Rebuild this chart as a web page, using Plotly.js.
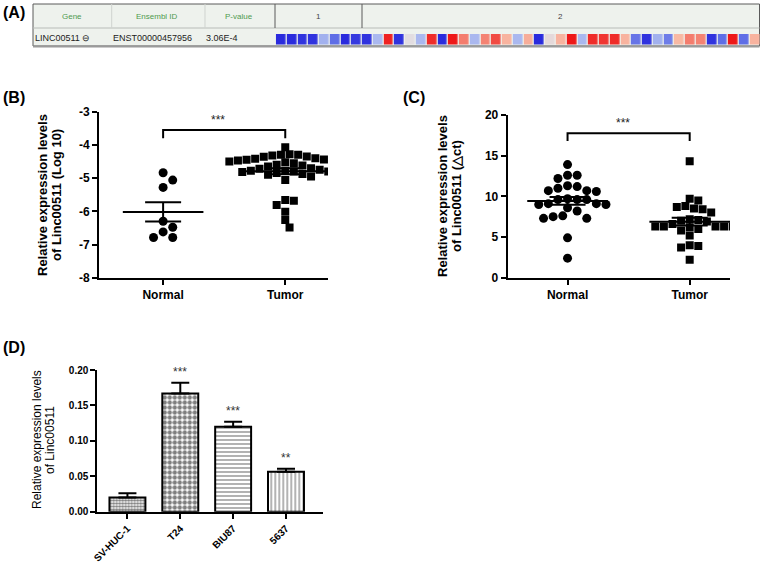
<!DOCTYPE html>
<html>
<head>
<meta charset="utf-8">
<script src="https://cdn.plot.ly/plotly-3.0.1.min.js"></script>
<style>html,body{margin:0;padding:0;background:#fff;}#chart{width:761px;height:564px;}</style>
</head>
<body>
<div id="chart"></div>
<script>
// ---------------- DATA ----------------
// (A) table
const tableHeader = ['Gene', 'Ensembl ID', 'P-value'];
const tableRow = ['LINC00511 \u2296', 'ENST00000457956', '3.06E-4'];
const heatGroups = ['1', '2'];
const heatValues = [-2.9,-2.9,-2.8,-2.8,-1.1,-2.0,-2.9,-2.7,-2.8,-1.0,2.9,-2.8,0.1,-1.0,2.8,-2.9,3.0,2.0,-1.0,1.9,
                    2.5,1.1,-1.0,1.2,-2.9,0.2,1.1,3.0,-1.0,2.8,2.7,2.8,1.1,-1.9,-2.8,-1.1,-1.8,1.0,2.0,1.9,
                    -2.8,-2.0,3.0,-2.0,1.1];
// (B) log10 expression
const groups = ['Normal', 'Tumor'];
const normalB = [-4.84, -5.06, -5.28, -6.30, -6.48, -6.62, -6.79, -6.79];
const tumorB = [-4.07,-4.28,-4.30,-4.30,-4.32,-4.35,-4.36,-4.40,-4.42,-4.44,-4.45,-4.45,-4.47,-4.48,-4.50,-4.50,
                -4.52,-4.55,-4.60,-4.62,-4.65,-4.70,-4.72,-4.75,-4.78,-4.78,-4.80,-4.80,-4.82,-4.85,-4.88,-4.90,
                -4.95,-5.06,-5.66,-5.68,-5.81,-6.01,-6.26,-6.49];
const sigB = '***';
// (C) delta ct
const normalC = [13.9,12.6,12.6,12.2,11.3,11.0,11.2,10.7,10.6,10.7,9.6,9.6,9.6,9.7,9.1,9.1,9.0,9.0,8.6,8.2,7.3,7.3,7.5,7.6,4.9,2.4];
const tumorC = [14.3,9.7,9.5,8.8,8.7,8.5,8.4,8.0,7.2,7.1,7.0,6.9,6.6,6.3,6.3,6.3,6.3,6.3,6.2,6.0,5.8,5.2,4.0,3.9,3.7,2.2];
const sigC = '***';
// (D) cell lines
const cellLines = ['SV-HUC-1', 'T24', 'BIU87', '5637'];
const cellMeans = [0.020, 0.167, 0.120, 0.0565];
const cellSEM = [0.006, 0.015, 0.007, 0.0042];
const sigD = ['', '***', '***', '**'];

// ---------------- HELPERS ----------------
const W = 761, H = 564;
const fx = p => p / W;
const fy = p => 1 - p / H;
const FONT = 'Liberation Sans, Arial, sans-serif';

function mean(a){ return a.reduce((s,v)=>s+v,0)/a.length; }
function sem(a){ const m=mean(a); const v=a.reduce((s,x)=>s+(x-m)*(x-m),0)/(a.length-1); return Math.sqrt(v/a.length); }

// beeswarm placement (px based)
function swarm(vals, center, kx, ky, d){
  const idx = vals.map((v,i)=>i).sort((a,b)=>vals[b]-vals[a]);
  const placed = []; const xs = new Array(vals.length);
  for (const i of idx){
    const py = vals[i]*ky;
    let off = 0;
    for (let s=0; s<400; s++){
      const k = s===0 ? 0 : (s%2===1 ? Math.ceil(s/2) : -Math.ceil(s/2));
      off = k*d*0.5;
      if (placed.every(p => (p[0]-off)*(p[0]-off)+(p[1]-py)*(p[1]-py) >= d*d*0.85)) break;
    }
    placed.push([off, py]);
    xs[i] = center + off/kx;
  }
  return xs;
}

// axis geometry (px)
const geomB = {x0:99, x1:328, y0:111.7, y1:277.7, xr:[-0.525,1.35], yr:[-8,-3]};
const geomC = {x0:507.7, x1:730, y0:115, y1:277.7, xr:[-0.49,1.33], yr:[0,20]};
const geomD = {x0:97.3, x1:323, y0:370, y1:511.7, xr:[-0.57,3.7], yr:[0,0.2]};
function kx(g){ return (g.x1-g.x0)/(g.xr[1]-g.xr[0]); }
function ky(g){ return (g.y1-g.y0)/(g.yr[1]-g.yr[0]); }

const axisCommon = {
  showline:true, linecolor:'#000', linewidth:2, ticks:'outside', ticklen:5, tickwidth:2, tickcolor:'#000',
  showgrid:false, zeroline:false, fixedrange:true,
  tickfont:{family:FONT, size:12, color:'#000', weight:700}
};

const traces = [];

// ---- (A) heatmap row ----
traces.push({
  type:'heatmap', xaxis:'x4', yaxis:'y4',
  z:[heatValues], x:heatValues.map((v,i)=>i), y:[0],
  zmin:-3, zmax:3, showscale:false, xgap:1.3, hoverinfo:'skip',
  colorscale:[[0,'#2424dc'],[1/6,'#5f6ee6'],[2/6,'#aab8ef'],[3/6,'#e0e1e8'],[4/6,'#f8b9a4'],[5/6,'#f47d6e'],[1,'#ee1818']]
});

// ---- dot plots ----
function dotPanel(vals, ci, g, xa, ya, symbol, size){
  const xs = swarm(vals, ci, kx(g), ky(g), size+0.6);
  traces.push({type:'scatter', mode:'markers', xaxis:xa, yaxis:ya, x:xs, y:vals,
    marker:{symbol:symbol, size:size, color:'#000'}, hoverinfo:'skip'});
  traces.push({type:'scatter', mode:'markers', xaxis:xa, yaxis:ya, x:[ci], y:[mean(vals)],
    marker:{size:1, color:'rgba(0,0,0,0)'}, hoverinfo:'skip',
    error_x:{type:'constant', value:0.33, width:0, thickness:2, color:'#000'},
    error_y:{type:'data', array:[sem(vals)], width:18, thickness:2, color:'#000'}});
}
dotPanel(normalB, 0, geomB, 'x', 'y', 'circle', 9);
dotPanel(tumorB, 1, geomB, 'x', 'y', 'square', 8);
dotPanel(normalC, 0, geomC, 'x2', 'y2', 'circle', 9);
dotPanel(tumorC, 1, geomC, 'x2', 'y2', 'square', 8);

// ---- (D) bars ----
traces.push({
  type:'bar', xaxis:'x3', yaxis:'y3', x:cellLines, y:cellMeans, width:0.68,
  marker:{color:'#fff', line:{color:'#000', width:2},
    pattern:{shape:['.', '.', '-', '|'], size:[3, 5, 4, 4], solidity:[0.55, 0.6, 0.3, 0.3], fgcolor:'#000', bgcolor:'#fff', fillmode:'overlay'}},
  error_y:{type:'data', symmetric:false, array:cellSEM, arrayminus:cellSEM.map(()=>0), width:9, thickness:2, color:'#000'},
  hoverinfo:'skip'
});

// ---------------- SHAPES / ANNOTATIONS ----------------
const shapes = [];
const ann = [];
// table
const tL=33, tR=759.5, tT=4, tM=28, tB=46;
shapes.push({type:'rect', xref:'paper', yref:'paper', x0:fx(tL), x1:fx(tR), y0:fy(tB), y1:fy(tT), fillcolor:'#eef2ed', line:{color:'#5a5a5a', width:1}, layer:'below'});
shapes.push({type:'line', xref:'paper', yref:'paper', x0:fx(tL), x1:fx(tR), y0:fy(tM), y1:fy(tM), line:{color:'#b8bcb8', width:1}, layer:'below'});
shapes.push({type:'line', xref:'paper', yref:'paper', x0:fx(tL), x1:fx(tR), y0:fy(tB+0.5), y1:fy(tB+0.5), line:{color:'#9a9a9a', width:2}, layer:'below'});
[111.7, 205].forEach(x => shapes.push({type:'line', xref:'paper', yref:'paper', x0:fx(x), x1:fx(x), y0:fy(tM), y1:fy(tT), line:{color:'#cfd3cf', width:1}, layer:'below'}));
[275, 362].forEach(x => shapes.push({type:'line', xref:'paper', yref:'paper', x0:fx(x), x1:fx(x), y0:fy(tM), y1:fy(tT), line:{color:'#5a5a5a', width:1}, layer:'below'}));
const headX = [72, 157, 239];
tableHeader.forEach((t,i) => ann.push({xref:'paper', yref:'paper', x:fx(headX[i]), y:fy(16), text:t, showarrow:false, xanchor:'center', yanchor:'middle', font:{family:FONT, size:8, color:'#4f9a4f'}}));
const grpX = [318.5, 560];
heatGroups.forEach((t,i) => ann.push({xref:'paper', yref:'paper', x:fx(grpX[i]), y:fy(16), text:t, showarrow:false, xanchor:'center', yanchor:'middle', font:{family:FONT, size:8, color:'#444'}}));
const rowX = [33, 111, 204];
tableRow.forEach((t,i) => ann.push({xref:'paper', yref:'paper', x:fx(rowX[i]), y:fy(38), text:t, showarrow:false, xanchor:'left', yanchor:'middle', font:{family:FONT, size:9, color:'#222'}}));

// panel labels
[['(A)',14,12],['(B)',14,97],['(C)',414,98],['(D)',14,347]].forEach(p => ann.push({xref:'paper', yref:'paper', x:fx(p[1]), y:fy(p[2]), text:p[0], showarrow:false, xanchor:'center', yanchor:'middle', font:{family:FONT, size:16, color:'#000', weight:700}}));

// axis titles (two lines each)
function ytitle(lines, xs, yc, size, weight){
  lines.forEach((t,i) => ann.push({xref:'paper', yref:'paper', x:fx(xs[i]), y:fy(yc), text:t, textangle:-90, showarrow:false, xanchor:'center', yanchor:'middle', font:{family:FONT, size:size, color:'#000', weight:weight}}));
}
ytitle(['Relative expression levels', 'of Linc00511 (Log 10)'], [43, 57], 195, 13, 700);
ytitle(['Relative expression levels', 'of Linc00511 (\u25B3ct)'], [443, 457], 196, 13, 700);
ytitle(['Relative expression levels', 'of Linc00511'], [37, 50], 440, 12, 400);

// significance brackets
function bracket(xa, ya, top, drop, label){
  shapes.push({type:'path', xref:xa, yref:ya, path:`M0,${drop} L0,${top} L1,${top} L1,${drop}`, line:{color:'#000', width:2}});
  ann.push({xref:xa, yref:ya, x:0.5, y:top, text:label, showarrow:false, xanchor:'center', yanchor:'bottom', yshift:1, xshift:-6, font:{family:FONT, size:12, color:'#222'}});
}
bracket('x', 'y', -3.55, -3.8, sigB);
bracket('x2', 'y2', 17.76, 16.8, sigC);

// D asterisks (category index as x)
sigD.forEach((s,i) => { if (s) ann.push({xref:'x3', yref:'y3', x:i, y:cellMeans[i]+cellSEM[i], text:s, showarrow:false, xanchor:'center', yanchor:'bottom', yshift:2, font:{family:FONT, size:12, color:'#333'}}); });

const layout = {
  width:W, height:H, margin:{l:0, r:0, t:0, b:0}, paper_bgcolor:'#fff', plot_bgcolor:'rgba(0,0,0,0)',
  showlegend:false, font:{family:FONT, color:'#000'},
  xaxis: Object.assign({}, axisCommon, {domain:[fx(geomB.x0), fx(geomB.x1)], range:geomB.xr, tickvals:[0,1], ticktext:groups, anchor:'y'}),
  yaxis: Object.assign({}, axisCommon, {domain:[fy(geomB.y1), fy(geomB.y0)], range:geomB.yr, tickvals:[-8,-7,-6,-5,-4,-3], ticktext:['-8','-7','-6','-5','-4','-3'], anchor:'x'}),
  xaxis2: Object.assign({}, axisCommon, {domain:[fx(geomC.x0), fx(geomC.x1)], range:geomC.xr, tickvals:[0,1], ticktext:groups, anchor:'y2'}),
  yaxis2: Object.assign({}, axisCommon, {domain:[fy(geomC.y1), fy(geomC.y0)], range:geomC.yr, dtick:5, anchor:'x2'}),
  xaxis3: Object.assign({}, axisCommon, {domain:[fx(geomD.x0), fx(geomD.x1)], range:geomD.xr, type:'category', tickangle:-45, anchor:'y3', tickfont:{family:FONT, size:10, color:'#000', weight:700}}),
  yaxis3: Object.assign({}, axisCommon, {domain:[fy(geomD.y1), fy(geomD.y0)], range:geomD.yr, dtick:0.05, tickformat:'.2f', anchor:'x3', tickfont:{family:FONT, size:10, color:'#000', weight:700}}),
  xaxis4: {domain:[fx(275.8), fx(760.4)], range:[-0.5, heatValues.length-0.5], visible:false, fixedrange:true, anchor:'y4'},
  yaxis4: {domain:[fy(44.5), fy(34)], range:[-0.5,0.5], visible:false, fixedrange:true, anchor:'x4'},
  shapes: shapes, annotations: ann
};

Plotly.newPlot('chart', traces, layout, {staticPlot:true, displayModeBar:false});
</script>
</body>
</html>
